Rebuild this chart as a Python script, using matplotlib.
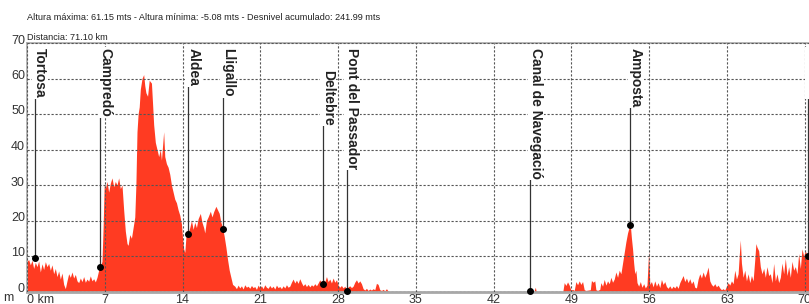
import matplotlib
matplotlib.use('Agg')
import matplotlib.pyplot as plt
from matplotlib.transforms import ScaledTranslation

plt.rcParams['font.family'] = ['Liberation Sans', 'DejaVu Sans']

# elevation profile (km, m)
km = [0.0, 0.15, 0.3, 0.45, 0.6, 0.75, 0.9, 1.05, 1.2, 1.35, 1.5, 1.65, 1.8, 1.95, 2.1, 2.25,
      2.4, 2.55, 2.7, 2.85, 3.0, 3.15, 3.3, 3.45, 3.6, 3.75, 3.9, 4.05, 4.2, 4.35, 4.5, 4.65,
      4.8, 4.95, 5.1, 5.25, 5.4, 5.55, 5.7, 5.85, 6.0, 6.15, 6.3, 6.45, 6.6, 6.75, 6.85, 6.95,
      7.05, 7.2, 7.35, 7.5, 7.65, 7.8, 7.95, 8.1, 8.25, 8.4, 8.55, 8.7, 8.85, 9.0, 9.1, 9.25,
      9.4, 9.55, 9.7, 9.8, 9.9, 10.0, 10.1, 10.2, 10.35, 10.5, 10.6, 10.7, 10.85, 11.0, 11.2, 11.3,
      11.4, 11.55, 11.7, 11.85, 12.0, 12.1, 12.2, 12.3, 12.4, 12.55, 12.7, 12.85, 13.0, 13.15, 13.3, 13.45,
      13.6, 13.75, 13.9, 14.0, 14.1, 14.2, 14.35, 14.5, 14.65, 14.8, 14.95, 15.1, 15.25, 15.4, 15.6, 15.75,
      15.9, 16.0, 16.15, 16.3, 16.5, 16.65, 16.8, 17.0, 17.15, 17.3, 17.45, 17.6, 17.75, 17.9, 18.05, 18.2,
      18.35, 18.5, 18.7, 18.85, 19.0, 19.15, 19.3, 19.45, 19.6, 19.75, 19.9, 20.05, 20.2, 20.35, 20.5, 20.65,
      20.8, 20.95, 21.1, 21.25, 21.4, 21.55, 21.7, 21.85, 22.0, 22.15, 22.3, 22.45, 22.6, 22.75, 22.9, 23.05,
      23.2, 23.35, 23.5, 23.65, 23.8, 23.95, 24.1, 24.25, 24.4, 24.55, 24.7, 24.85, 25.0, 25.15, 25.3, 25.45,
      25.6, 25.75, 25.9, 26.05, 26.2, 26.35, 26.5, 26.65, 26.8, 26.95, 27.1, 27.25, 27.4, 27.55, 27.7, 27.85,
      28.0, 28.15, 28.3, 28.45, 28.6, 28.75, 28.9, 29.05, 29.2, 29.35, 29.5, 29.65, 29.8, 29.95, 30.1, 30.25,
      30.4, 30.55, 30.7, 30.85, 31.0, 31.15, 31.3, 31.45, 31.6, 31.75, 31.9, 32.05, 32.2, 32.35, 32.5, 32.7,
      33.0, 34.0, 36.0, 38.0, 40.0, 42.0, 44.0, 45.3, 45.6, 45.75, 45.85, 46.0, 47.0, 48.2,
      48.35, 48.5, 48.65, 48.8, 48.95, 49.1, 49.25, 49.4, 49.55, 49.7, 49.85, 50.0, 50.15, 50.3, 50.5, 50.7,
      50.8, 50.95, 51.1, 51.2, 51.35, 51.55, 51.65, 51.8, 51.95, 52.1, 52.25, 52.4, 52.55, 52.7, 52.85, 53.0,
      53.15, 53.3, 53.45, 53.6, 53.75, 53.9, 54.05, 54.2, 54.3, 54.4, 54.5, 54.6, 54.7, 54.8, 54.9, 55.05,
      55.2, 55.35, 55.5, 55.65, 55.8, 55.95, 56.05, 56.2, 56.35, 56.5, 56.65, 56.8, 56.95, 57.1, 57.25, 57.4,
      57.55, 57.7, 57.85, 58.0, 58.15, 58.3, 58.45, 58.6, 58.75, 58.9, 59.05, 59.2, 59.35, 59.5, 59.65, 59.8,
      59.95, 60.1, 60.25, 60.4, 60.55, 60.7, 60.85, 61.0, 61.15, 61.3, 61.45, 61.6, 61.75, 61.9, 62.05, 62.2,
      62.35, 62.5, 62.65, 62.8, 62.95, 63.1, 63.25, 63.4, 63.55, 63.7, 63.85, 64.0, 64.1, 64.2, 64.3, 64.45,
      64.6, 64.75, 64.9, 65.05, 65.2, 65.35, 65.5, 65.6, 65.7, 65.85, 66.0, 66.15, 66.3, 66.45, 66.6, 66.75,
      66.9, 67.05, 67.2, 67.35, 67.5, 67.65, 67.8, 67.95, 68.1, 68.25, 68.4, 68.55, 68.7, 68.85, 69.0, 69.15,
      69.3, 69.45, 69.6, 69.75, 69.9, 70.05, 70.2, 70.35, 70.5, 70.7, 70.9, 71.1]
elev = [8.5, 9.0, 7.5, 8.8, 6.5, 8.2, 7.0, 8.6, 5.5, 7.8, 6.2, 8.4, 7.0, 7.9, 6.0, 7.5,
        5.0, 6.5, 4.2, 5.8, 3.5, 5.2, 2.0, 0.8, 3.0, 5.0, 4.0, 5.5, 3.8, 4.8, 3.0, 2.5,
        3.8, 2.8, 4.2, 2.6, 3.5, 2.9, 4.4, 3.0, 3.6, 2.7, 4.0, 6.0, 7.0, 8.5, 18.0, 30.0,
        29.0, 31.0, 28.0, 30.5, 32.0, 29.5, 31.0, 30.0, 32.0, 29.0, 30.0, 23.0, 17.0, 13.5, 13.0, 16.0,
        15.0, 18.0, 21.0, 30.0, 45.0, 50.0, 52.0, 57.0, 60.0, 61.1, 58.0, 56.0, 55.0, 59.5, 58.7, 53.0,
        47.0, 42.0, 40.0, 38.0, 40.0, 37.0, 41.0, 45.0, 38.0, 36.0, 35.0, 33.0, 30.0, 28.0, 26.0, 25.0,
        23.0, 21.5, 19.0, 15.0, 12.0, 11.0, 17.3, 16.5, 18.0, 20.0, 17.5, 19.5, 18.0, 20.5, 22.0, 19.5,
        18.0, 16.5, 20.0, 21.0, 22.6, 21.0, 22.5, 24.0, 23.0, 22.0, 19.5, 18.0, 15.5, 12.5, 9.0, 6.0,
        4.0, 2.0, 1.5, 0.8, 1.8, 1.0, 1.6, 0.7, 1.9, 1.2, 1.5, 0.9, 1.7, 1.1, 1.4, 0.6,
        1.8, 1.0, 1.6, 0.8, 1.9, 1.2, 0.9, 1.7, 1.0, 1.5, 0.7, 1.8, 1.1, 1.4, 0.8, 1.6,
        1.0, 1.9, 1.2, 1.5, 2.6, 3.5, 2.4, 3.2, 2.3, 3.6, 2.5, 1.6, 2.2, 1.4, 2.0, 1.3,
        1.9, 1.5, 2.2, 1.6, 2.4, 3.3, 2.5, 3.6, 2.7, 4.2, 2.8, 3.5, 2.4, 3.8, 2.6, 3.3,
        1.8, 1.2, 1.7, 1.0, 1.5, 0.6, 1.3, 1.6, 1.1, 1.5, 2.6, 3.3, 2.4, 3.0, 2.2, 0.8,
        0.4, 0.9, 0.3, 0.7, 0.4, 0.8, 0.5, 2.3, 2.0, 0.5, 0.3, 0.6, 0.2, 0.8, 0.1, -0.5,
        -1.5, -2.0, -3.0, -5.08, -4.0, -3.0, -2.0, -0.3, -0.2, 1.2, -0.3, -1.0, -2.0, -0.5,
        2.5, 1.7, 2.7, 1.8, 0.4, 0.6, 0.3, 2.8, 1.9, 3.0, 2.0, 2.8, 0.5, 0.3, 0.4, 0.5,
        3.1, 2.6, 3.0, 0.5, 0.3, 0.6, 2.5, 1.5, 3.4, 1.8, 3.0, 2.2, 4.0, 2.6, 3.5, 5.5,
        4.0, 6.0, 5.0, 8.0, 11.0, 14.0, 16.5, 18.2, 18.7, 15.0, 12.0, 8.0, 5.0, 6.0, 2.5, 1.5,
        2.8, 1.2, 2.2, 1.0, 1.8, 11.5, 2.0, 2.8, 1.3, 3.0, 1.5, 2.5, 1.1, 3.4, 2.0, 2.8,
        1.4, 0.9, 1.6, 0.8, 1.5, 1.0, 1.7, 0.9, 2.5, 3.5, 4.5, 2.8, 3.8, 2.5, 3.6, 2.2,
        3.0, 1.2, 1.0, 3.5, 5.0, 3.8, 5.5, 4.0, 5.2, 6.9, 3.0, 2.0, 1.5, 2.2, 1.3, 1.8,
        1.0, 0.5, 0.8, 0.4, 1.5, 2.5, 1.8, 3.0, 2.2, 6.0, 3.5, 5.0, 10.0, 14.5, 8.0, 4.0,
        6.0, 3.0, 5.0, 2.5, 4.5, 3.0, 9.0, 13.5, 12.5, 11.5, 7.0, 5.0, 6.5, 4.0, 7.0, 4.5,
        5.0, 2.5, 7.9, 3.0, 5.0, 2.5, 4.0, 8.0, 5.0, 9.3, 4.5, 7.0, 4.0, 8.5, 6.0, 7.0,
        5.0, 10.7, 6.5, 12.0, 10.0, 11.5, 10.0, 12.0, 9.5, 10.5, 9.0, 9.5]

# waypoints
wp_names = ['Tortosa', 'Campredó', 'Aldea', 'Lligallo', 'Deltebre', 'Pont del Passador',
            'Canal de Navegació', 'Amposta', 'Tortosa']
wp_km = [0.7, 6.6, 14.5, 17.6, 26.6, 28.8, 45.3, 54.3, 70.3]
wp_elev = [9.4, 6.9, 16.2, 17.6, 2.1, 0.2, 0.1, 18.7, 10.0]

xticks = [0, 7, 14, 21, 28, 35, 42, 49, 56, 63, 70]
xticklabels = ['0 km', '7', '14', '21', '28', '35', '42', '49', '56', '63', '70']
yticks = [0, 10, 20, 30, 40, 50, 60, 70]

title1 = 'Altura máxima: 61.15 mts - Altura mínima: -5.08 mts - Desnivel acumulado: 241.99 mts'
title2 = 'Distancia: 71.10 km'

W, H = 809, 304
fig = plt.figure(figsize=(W / 100, H / 100), dpi=100)
ax = fig.add_axes([27 / W, 12.5 / H, 790 / W, 248.5 / H])

ax.fill_between(km, elev, 0, color='#ff3b22', lw=0, zorder=1)

ax.set_xlim(0.2, 71.1)
ax.set_ylim(0, 70)
ax.set_xticks(xticks)
ax.set_xticklabels(xticklabels)
ax.set_yticks(yticks)
ax.tick_params(length=0, labelsize=9, colors='#333333', pad=1.5)
for lab in ax.get_xticklabels():
    if lab.get_text() == '0 km':
        lab.set_horizontalalignment('left')
for lab in ax.get_yticklabels():
    lab.set_transform(lab.get_transform() + ScaledTranslation(0, 4 / 100, fig.dpi_scale_trans))

ax.grid(True, color='#555555', lw=0.8, linestyle=(0, (2, 1.6)))
ax.set_axisbelow(False)
for s in ['top', 'left']:
    ax.spines[s].set_color('#a8a8a8')
    ax.spines[s].set_linewidth(1.2)
ax.spines['bottom'].set_color('#a8a8a8')
ax.spines['bottom'].set_linewidth(2)
ax.spines['right'].set_visible(False)

# waypoint markers and labels
for i in range(len(wp_names)):
    top = 62.5 if wp_names[i] == 'Deltebre' else 68.6
    ax.plot([wp_km[i], wp_km[i]], [wp_elev[i], top - 1], color='#333333', lw=0.9, zorder=3)
    ax.plot(wp_km[i], wp_elev[i], 'o', color='black', ms=4, zorder=4, clip_on=False)
    ax.text(wp_km[i] - 0.15, top, wp_names[i], rotation=270, ha='left', va='top',
            fontsize=10, fontweight='bold', color='#222222', zorder=5,
            bbox=dict(facecolor='white', edgecolor='none', pad=0.8))

fig.text(27 / W, 1 - 18 / H, title1, fontsize=6.6, color='#222222', va='center')
fig.text(27 / W, 1 - 37.5 / H, title2, fontsize=6.6, color='#222222', va='center')
fig.text(3 / W, 1 - 298 / H, 'm', fontsize=9, color='#333333', va='center')

fig.savefig('out.png', dpi=100)
